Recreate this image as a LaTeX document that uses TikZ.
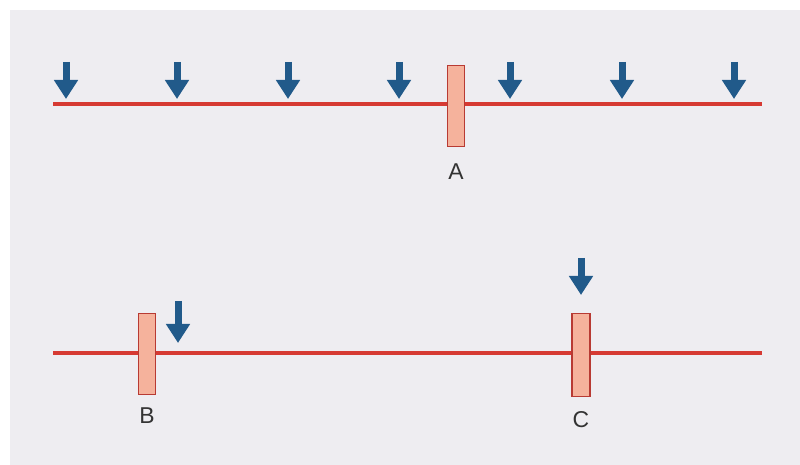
\documentclass[tikz,border=0pt]{standalone}
\usepackage{fontspec}
\setmainfont{Liberation Sans}
\usetikzlibrary{arrows.meta}
\definecolor{paper}{HTML}{EEEDF1}
\definecolor{strand}{HTML}{D63A33}
\definecolor{cutblue}{HTML}{215A8A}
\definecolor{boxfill}{HTML}{F5B29C}
\definecolor{boxedge}{HTML}{B83A33}
\definecolor{labelgray}{HTML}{333333}
\tikzset{
  strandline/.style={draw=strand, line width=3.4bp},
  site/.style={draw=boxedge, fill=boxfill, line width=1.4bp, minimum width=17bp, minimum height=81bp, inner sep=0pt},
  cutmark/.style={draw=cutblue, line width=7bp, -{Triangle[width=23bp,length=19bp]}},
  sitelabel/.style={text=labelgray, font=\fontsize{23}{23}\selectfont, inner sep=0pt}
}
\begin{document}
\begin{tikzpicture}[x=1bp,y=-1bp]
  \useasboundingbox (0,0) rectangle (800,465);
  \fill[white] (0,0) rectangle (800,465);
  \fill[paper] (10,10) rectangle (800,465);

  % upper strand
  \coordinate (t0) at (53,104);
  \coordinate (t1) at (762,104);
  \draw[strandline] (t0) -- (t1);
  \node[site] (A) at (456,106) {};
  \node[sitelabel] (lA) at (456,172) {A};
  \foreach \x [count=\i] in {66,177,288,399,510,622,734} {
    \coordinate (ta\i) at (\x,62);
    \coordinate (tb\i) at (\x,99);
    \draw[cutmark] (ta\i) -- (tb\i);
  }

  % lower strand
  \coordinate (b0) at (53,353);
  \coordinate (b1) at (762,353);
  \draw[strandline] (b0) -- (b1);
  \node[site] (B) at (147,354) {};
  \node[site, minimum width=18bp, minimum height=83bp] (C) at (581,355) {};
  \node[sitelabel] (lB) at (147,416) {B};
  \node[sitelabel] (lC) at (581,420) {C};
  \coordinate (ba) at (178,301);
  \coordinate (bb) at (178,343);
  \draw[cutmark] (ba) -- (bb);
  \coordinate (ca) at (581,258);
  \coordinate (cb) at (581,295);
  \draw[cutmark] (ca) -- (cb);
\end{tikzpicture}
\end{document}
